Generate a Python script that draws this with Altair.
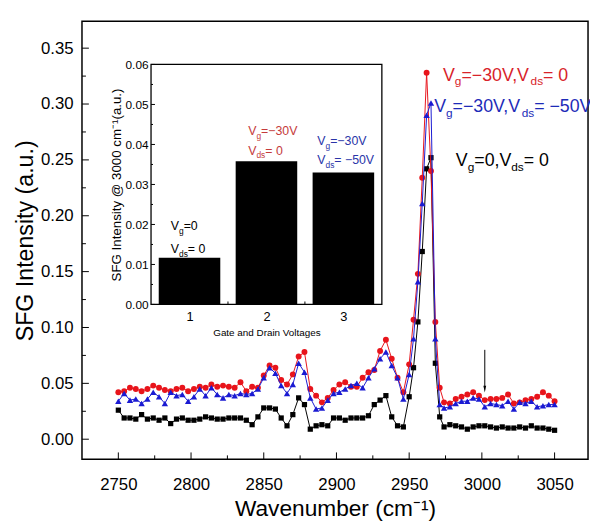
import altair as alt
import pandas as pd

FONT = "Liberation Sans"

# ---------------- data ----------------
wavenumber = [
    2750, 2754, 2758, 2762, 2766, 2770, 2774, 2778, 2782, 2786,
    2790, 2794, 2798, 2802, 2806, 2810, 2814, 2818, 2822, 2826,
    2830, 2834, 2838, 2842, 2846, 2850, 2854, 2858, 2862, 2866,
    2870, 2874, 2878, 2882, 2886, 2890, 2894, 2898, 2902, 2906,
    2910, 2914, 2918, 2922, 2926, 2930, 2934, 2938, 2942, 2946,
    2950, 2953, 2956, 2959, 2962, 2965, 2968, 2971,
    2974, 2978, 2982, 2986, 2990, 2994, 2998, 3002, 3006, 3010,
    3014, 3018, 3022, 3026, 3030, 3034, 3038, 3042, 3046, 3050]

sfg_vg0_vds0 = [
    0.026, 0.019, 0.019, 0.018, 0.022, 0.018, 0.019, 0.017, 0.019, 0.014,
    0.018, 0.019, 0.017, 0.017, 0.018, 0.020, 0.019, 0.018, 0.018, 0.019,
    0.019, 0.019, 0.017, 0.013, 0.020, 0.028, 0.028, 0.027, 0.019, 0.012,
    0.022, 0.037, 0.031, 0.009, 0.012, 0.013, 0.012, 0.019, 0.019, 0.017,
    0.019, 0.019, 0.019, 0.021, 0.031, 0.035, 0.039, 0.020, 0.012, 0.011,
    0.038, 0.064, 0.105, 0.168, 0.242, 0.252, 0.068, 0.020,
    0.011, 0.013, 0.012, 0.011, 0.009, 0.011, 0.012, 0.012, 0.011, 0.010,
    0.011, 0.010, 0.010, 0.011, 0.010, 0.012, 0.010, 0.010, 0.009, 0.008]

sfg_vg30_vds0 = [
    0.042, 0.043, 0.046, 0.045, 0.043, 0.045, 0.048, 0.046, 0.044, 0.043,
    0.045, 0.046, 0.043, 0.045, 0.047, 0.046, 0.049, 0.047, 0.048, 0.047,
    0.046, 0.051, 0.043, 0.047, 0.046, 0.057, 0.066, 0.064, 0.053, 0.049,
    0.058, 0.074, 0.078, 0.045, 0.039, 0.033, 0.037, 0.044, 0.049, 0.051,
    0.047, 0.047, 0.055, 0.060, 0.062, 0.079, 0.089, 0.072, 0.055, 0.042,
    0.067, 0.107, 0.148, 0.234, 0.328, 0.240, 0.105, 0.046,
    0.033, 0.032, 0.036, 0.038, 0.040, 0.042, 0.039, 0.035, 0.036, 0.036,
    0.037, 0.040, 0.032, 0.033, 0.035, 0.036, 0.038, 0.042, 0.039, 0.034]

sfg_vg30_vds50 = [
    0.034, 0.041, 0.035, 0.036, 0.032, 0.036, 0.042, 0.038, 0.032, 0.042,
    0.039, 0.040, 0.034, 0.038, 0.045, 0.039, 0.046, 0.040, 0.037, 0.040,
    0.039, 0.041, 0.040, 0.041, 0.045, 0.055, 0.064, 0.059, 0.048, 0.041,
    0.049, 0.068, 0.060, 0.037, 0.027, 0.028, 0.035, 0.041, 0.042, 0.045,
    0.048, 0.050, 0.046, 0.055, 0.063, 0.072, 0.078, 0.066, 0.055, 0.036,
    0.058, 0.090, 0.141, 0.211, 0.290, 0.301, 0.090, 0.031,
    0.028, 0.029, 0.032, 0.034, 0.034, 0.037, 0.036, 0.029, 0.032, 0.031,
    0.030, 0.034, 0.027, 0.033, 0.032, 0.034, 0.029, 0.030, 0.031, 0.031]

inset_category = [1, 2, 3]
inset_value = [0.0117, 0.0358, 0.0330]

main_x_ticks = [2750, 2800, 2850, 2900, 2950, 3000, 3050]
main_x_minor = [2775, 2825, 2875, 2925, 2975, 3025]
main_y_ticks = [0.00, 0.05, 0.10, 0.15, 0.20, 0.25, 0.30, 0.35]
main_y_minor = [0.025, 0.075, 0.125, 0.175, 0.225, 0.275, 0.325]
inset_y_ticks = [0.00, 0.01, 0.02, 0.03, 0.04, 0.05, 0.06]
inset_y_minor = [0.005, 0.015, 0.025, 0.035, 0.045, 0.055]
inset_x_ticks = [1, 2, 3]
inset_x_minor = [1.5, 2.5]

arrow_x = [3002]
arrow_top = [0.080]
arrow_end = [0.047]
arrow_head = [0.0448]

# ---------------- layout ----------------
W, H = 513, 444
RED = "#e8141b"
BLUE = "#1a1ad2"


def XS():
    return alt.Scale(domain=[2725, 3073], range=[0, W], nice=False, zero=False)


def YS():
    return alt.Scale(domain=[-0.018, 0.374], range=[H, 0], nice=False, zero=False)


IX0, IX1, IY0, IY1 = 70, 304, 287, 43.7


def IXS():
    return alt.Scale(domain=[0.5, 3.5], range=[IX0, IX1], nice=False, zero=False)


def IYS():
    return alt.Scale(domain=[0, 0.06], range=[IY0, IY1], nice=False, zero=False)


def series_df(vals):
    return pd.DataFrame({"wn": wavenumber, "val": vals})


axis_common = dict(labelFont=FONT, titleFont=FONT, titleFontWeight="normal",
                   ticks=False, tickSize=0, domain=False, grid=False,
                   labelColor="black", titleColor="black")

x_axis = alt.Axis(orient="bottom", values=main_x_ticks, format="d",
                  title="Wavenumber (cm⁻¹)", labelFontSize=17, titleFontSize=23,
                  labelPadding=18, titlePadding=5, **axis_common)
y_axis = alt.Axis(orient="left", values=main_y_ticks, format=".2f",
                  title="SFG Intensity (a.u.)", labelFontSize=17, titleFontSize=23.5,
                  labelPadding=9, titlePadding=3, **axis_common)

layers = []

# main series
black_base = alt.Chart(series_df(sfg_vg0_vds0))
layers.append(black_base.mark_line(color="black", strokeWidth=1).encode(
    x=alt.X("wn:Q", scale=XS(), axis=x_axis),
    y=alt.Y("val:Q", scale=YS(), axis=y_axis)))
layers.append(black_base.mark_point(shape="square", filled=True, size=28,
                                    color="black", opacity=1).encode(
    x=alt.X("wn:Q", scale=XS(), axis=None),
    y=alt.Y("val:Q", scale=YS(), axis=None)))

for vals, color, shape, size in [(sfg_vg30_vds0, RED, "circle", 36),
                                 (sfg_vg30_vds50, BLUE, "triangle-up", 42)]:
    base = alt.Chart(series_df(vals)).encode(
        x=alt.X("wn:Q", scale=XS(), axis=None),
        y=alt.Y("val:Q", scale=YS(), axis=None))
    layers.append(base.mark_line(color=color, strokeWidth=1))
    layers.append(base.mark_point(shape=shape, filled=True, size=size,
                                  color=color, opacity=1))

# arrow
arrow_df = pd.DataFrame({"x": arrow_x, "top": arrow_top, "end": arrow_end,
                         "head": arrow_head})
layers.append(alt.Chart(arrow_df).mark_rule(color="black", strokeWidth=1).encode(
    x=alt.X("x:Q", scale=XS(), axis=None),
    y=alt.Y("top:Q", scale=YS(), axis=None), y2="end:Q"))
layers.append(alt.Chart(arrow_df).mark_point(
    shape="M-0.4,-1L0.4,-1L0,1Z", filled=True, size=49, color="black",
    opacity=1).encode(
    x=alt.X("x:Q", scale=XS(), axis=None),
    y=alt.Y("head:Q", scale=YS(), axis=None)))


def yticks(vals, scale, x0, length):
    return alt.Chart(pd.DataFrame({"v": vals})).mark_rule(
        color="black", strokeWidth=1).encode(
        y=alt.Y("v:Q", scale=scale, axis=None),
        x=alt.value(x0), x2=alt.value(x0 + length))


def xticks(vals, scale, y0, length):
    return alt.Chart(pd.DataFrame({"v": vals})).mark_rule(
        color="black", strokeWidth=1).encode(
        x=alt.X("v:Q", scale=scale, axis=None),
        y=alt.value(y0), y2=alt.value(y0 - length))


layers += [yticks(main_y_ticks, YS(), 0, 7), yticks(main_y_minor, YS(), 0, 4),
           xticks(main_x_ticks, XS(), H, 7), xticks(main_x_minor, XS(), H, 4)]

# ---------------- inset ----------------
inset_df = pd.DataFrame({"cat": inset_category, "val": inset_value})

layers.append(alt.Chart(pd.DataFrame({"a": [0.5], "b": [3.5], "c": [0.0], "d": [0.06]}))
              .mark_rect(fill="white", stroke="black", strokeWidth=1.3).encode(
    x=alt.X("a:Q", scale=IXS(), axis=alt.Axis(
        orient="bottom", offset=-(H - IY0), values=inset_x_ticks, format="d",
        title="Gate and Drain Voltages", labelFontSize=13, titleFontSize=10,
        labelPadding=6, titlePadding=4, **axis_common)),
    x2="b:Q",
    y=alt.Y("c:Q", scale=IYS(), axis=alt.Axis(
        orient="left", offset=-IX0, values=inset_y_ticks, format=".2f",
        title="SFG Intensity @ 3000 cm⁻¹(a.u.)", labelFontSize=12,
        titleFontSize=13.5, labelPadding=3, titlePadding=2, **axis_common)),
    y2="d:Q"))

layers.append(alt.Chart(inset_df).transform_calculate(
    lo="datum.cat - 0.4", hi="datum.cat + 0.4").mark_rect(color="black").encode(
    x=alt.X("lo:Q", scale=IXS(), axis=None), x2="hi:Q",
    y=alt.Y("val:Q", scale=IYS(), axis=None), y2=alt.datum(0)))

layers += [yticks(inset_y_ticks, IYS(), IX0, 4), yticks(inset_y_minor, IYS(), IX0, 2),
           xticks(inset_x_minor, IXS(), IY0, 3)]

# ---------------- rich text labels (subscripts) ----------------
ARIAL = {'V': 667, 'g': 556, '=': 584, '−': 584, '3': 556, '0': 556, ',': 278,
         'd': 556, 's': 500, ' ': 278, '5': 556}


def tw(s, size):
    return sum(ARIAL.get(c, 556) for c in s) / 1000.0 * size


def rich(pieces, x0, y0, color, size, sub):
    out = []
    x = x0
    for text, is_sub in pieces:
        fs = sub if is_sub else size
        dy = round(size * 0.3) if is_sub else 0
        out.append(alt.Chart(pd.DataFrame({"t": [text]})).mark_text(
            align="left", baseline="alphabetic", font=FONT, fontSize=fs,
            color=color).encode(
            x=alt.value(x), y=alt.value(y0 + dy), text="t:N"))
        x += tw(text, fs)
    return out


MS, MSUB = 18, 12
IS, ISUB = 12.5, 8.5
layers += rich([("V", 0), ("g", 1), ("=−30V,V", 0), ("ds", 1), ("= 0", 0)], 366, 60, "#d8232a", MS, MSUB)
layers += rich([("V", 0), ("g", 1), ("=−30V,V", 0), ("ds", 1), ("= −50V", 0)], 357, 91.5, "#1d2bb8", MS, MSUB)
layers += rich([("V", 0), ("g", 1), ("=0,V", 0), ("ds", 1), ("= 0", 0)], 379, 146.5, "black", MS, MSUB)
layers += rich([("V", 0), ("g", 1), ("=0", 0)], 90, 211.5, "black", IS, ISUB)
layers += rich([("V", 0), ("ds", 1), ("= 0", 0)], 90, 235, "black", IS, ISUB)
layers += rich([("V", 0), ("g", 1), ("=−30V", 0)], 168.5, 115, "#c53b3b", IS, ISUB)
layers += rich([("V", 0), ("ds", 1), ("= 0", 0)], 168.5, 135, "#c53b3b", IS, ISUB)
layers += rich([("V", 0), ("g", 1), ("=−30V", 0)], 238.5, 125, "#2a35a8", IS, ISUB)
layers += rich([("V", 0), ("ds", 1), ("= −50V", 0)], 238.5, 144.5, "#2a35a8", IS, ISUB)

chart = alt.layer(*layers).resolve_scale(
    x="independent", y="independent"
).properties(
    width=W, height=H,
    autosize=alt.AutoSizeParams(type="none"),
    padding={"left": 75, "top": 10, "right": 2, "bottom": 60},
).configure(font=FONT).configure_view(stroke="black", strokeWidth=1.5)

chart.save("out.html", embed_options={"renderer": "svg", "actions": False})
